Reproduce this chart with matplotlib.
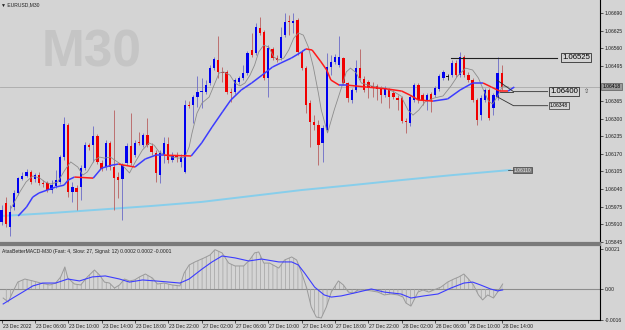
import numpy as np
import matplotlib.pyplot as plt
from matplotlib.collections import LineCollection

plt.rcParams['font.family'] = ['Liberation Sans', 'DejaVu Sans']
plt.rcParams['hatch.linewidth'] = 0.5

# EURUSD M30 candles, bar 0 = 23 Dec 2022 02:00
opens = [1.05918, 1.05988, 1.05899, 1.05973, 1.06025, 1.06077, 1.06088, 1.06103, 1.06077, 1.06091,
         1.06062, 1.06062, 1.06036, 1.06051, 1.06066, 1.06158, 1.06276, 1.06029, 1.06043, 1.06047,
         1.06117, 1.06202, 1.06202, 1.06236, 1.06136, 1.06121, 1.06210, 1.06121, 1.06084, 1.06077,
         1.06136, 1.06199, 1.06165, 1.06214, 1.06202, 1.06239, 1.06199, 1.06173, 1.06091, 1.06165,
         1.06206, 1.06147, 1.06165, 1.06140, 1.06103, 1.06350, 1.06350, 1.06380, 1.06399, 1.06399,
         1.06432, 1.06487, 1.06517, 1.06473, 1.06473, 1.06399, 1.06399, 1.06436, 1.06450, 1.06469,
         1.06554, 1.06543, 1.06635, 1.06621, 1.06450, 1.06558, 1.06524, 1.06524, 1.06609, 1.06661,
         1.06654, 1.06665, 1.06547, 1.06487, 1.06358, 1.06288, 1.06276, 1.06210, 1.06258, 1.06491,
         1.06510, 1.06498, 1.06524, 1.06432, 1.06369, 1.06406, 1.06487, 1.06447, 1.06436, 1.06421,
         1.06421, 1.06413, 1.06387, 1.06406, 1.06395, 1.06376, 1.06376, 1.06291, 1.06284, 1.06369,
         1.06424, 1.06387, 1.06369, 1.06391, 1.06387, 1.06410, 1.06450, 1.06454, 1.06461, 1.06506,
         1.06461, 1.06528, 1.06461, 1.06443, 1.06369, 1.06313, 1.06369, 1.06406, 1.06339, 1.06380,
         1.06469]
highs = [1.05980, 1.06010, 1.05980, 1.06036, 1.06084, 1.06103, 1.06114, 1.06110, 1.06099, 1.06103,
         1.06073, 1.06069, 1.06073, 1.06110, 1.06165, 1.06306, 1.06284, 1.06066, 1.06054, 1.06128,
         1.06214, 1.06210, 1.06273, 1.06243, 1.06147, 1.06221, 1.06217, 1.06332, 1.06103, 1.06136,
         1.06210, 1.06321, 1.06221, 1.06251, 1.06247, 1.06302, 1.06210, 1.06184, 1.06184, 1.06232,
         1.06232, 1.06177, 1.06177, 1.06169, 1.06369, 1.06365, 1.06387, 1.06458, 1.06450, 1.06443,
         1.06498, 1.06528, 1.06606, 1.06491, 1.06480, 1.06413, 1.06450, 1.06458, 1.06498, 1.06550,
         1.06617, 1.06654, 1.06676, 1.06628, 1.06572, 1.06565, 1.06535, 1.06639, 1.06691, 1.06683,
         1.06691, 1.06672, 1.06554, 1.06495, 1.06369, 1.06313, 1.06295, 1.06276, 1.06543, 1.06535,
         1.06539, 1.06606, 1.06528, 1.06436, 1.06413, 1.06517, 1.06558, 1.06458, 1.06443, 1.06436,
         1.06428, 1.06421, 1.06421, 1.06413, 1.06406, 1.06387, 1.06384, 1.06302, 1.06387, 1.06432,
         1.06432, 1.06395, 1.06395, 1.06399, 1.06421, 1.06465, 1.06480, 1.06465, 1.06517, 1.06517,
         1.06547, 1.06535, 1.06473, 1.06450, 1.06376, 1.06387, 1.06413, 1.06413, 1.06395, 1.06528,
         1.06498]
lows = [1.05906, 1.05899, 1.05866, 1.05962, 1.06017, 1.06073, 1.06084, 1.06058, 1.06066, 1.06054,
        1.06047, 1.06029, 1.06025, 1.06043, 1.06058, 1.06147, 1.06010, 1.05992, 1.05962, 1.05999,
        1.06110, 1.06184, 1.06140, 1.06132, 1.06106, 1.06110, 1.06110, 1.05962, 1.06006, 1.05925,
        1.06128, 1.06128, 1.06158, 1.06202, 1.06195, 1.06195, 1.06165, 1.06066, 1.06062, 1.06136,
        1.06136, 1.06140, 1.06140, 1.06121, 1.06099, 1.06339, 1.06284, 1.06343, 1.06339, 1.06391,
        1.06424, 1.06480, 1.06450, 1.06436, 1.06391, 1.06362, 1.06391, 1.06428, 1.06443, 1.06461,
        1.06528, 1.06535, 1.06609, 1.06443, 1.06380, 1.06517, 1.06510, 1.06517, 1.06602, 1.06609,
        1.06617, 1.06535, 1.06480, 1.06321, 1.06195, 1.06258, 1.06128, 1.06140, 1.06251, 1.06461,
        1.06502, 1.06491, 1.06424, 1.06362, 1.06358, 1.06399, 1.06443, 1.06399, 1.06376, 1.06380,
        1.06369, 1.06358, 1.06380, 1.06339, 1.06373, 1.06332, 1.06284, 1.06247, 1.06273, 1.06362,
        1.06358, 1.06350, 1.06332, 1.06325, 1.06380, 1.06402, 1.06443, 1.06443, 1.06454, 1.06454,
        1.06454, 1.06454, 1.06436, 1.06362, 1.06276, 1.06295, 1.06362, 1.06295, 1.06313, 1.06369,
        1.06406]
closes = [1.05962, 1.05910, 1.05955, 1.06025, 1.06080, 1.06088, 1.06103, 1.06066, 1.06091, 1.06062,
          1.06058, 1.06036, 1.06054, 1.06073, 1.06158, 1.06280, 1.06029, 1.06047, 1.06029, 1.06117,
          1.06202, 1.06195, 1.06236, 1.06140, 1.06114, 1.06210, 1.06121, 1.06080, 1.06073, 1.06128,
          1.06199, 1.06136, 1.06210, 1.06210, 1.06239, 1.06202, 1.06177, 1.06099, 1.06173, 1.06210,
          1.06147, 1.06165, 1.06158, 1.06158, 1.06350, 1.06347, 1.06380, 1.06399, 1.06402, 1.06424,
          1.06487, 1.06521, 1.06473, 1.06469, 1.06399, 1.06395, 1.06443, 1.06450, 1.06469, 1.06543,
          1.06535, 1.06639, 1.06617, 1.06450, 1.06561, 1.06524, 1.06517, 1.06602, 1.06658, 1.06658,
          1.06661, 1.06547, 1.06487, 1.06350, 1.06288, 1.06276, 1.06202, 1.06265, 1.06491, 1.06510,
          1.06528, 1.06528, 1.06432, 1.06376, 1.06406, 1.06487, 1.06450, 1.06406, 1.06413, 1.06413,
          1.06410, 1.06387, 1.06410, 1.06380, 1.06380, 1.06369, 1.06291, 1.06288, 1.06380, 1.06424,
          1.06369, 1.06369, 1.06387, 1.06369, 1.06413, 1.06458, 1.06473, 1.06454, 1.06506, 1.06461,
          1.06528, 1.06461, 1.06443, 1.06369, 1.06295, 1.06376, 1.06406, 1.06302, 1.06387, 1.06469,
          1.06418]

# slow two-colour MA (b = rising, r = falling)
ma_bars = [4, 6, 7.5, 9, 11, 13, 15, 16, 17.5, 22, 24, 26.5, 28, 32, 34.5, 37, 39, 45.5, 48, 50.5,
           53, 55, 57.5, 60, 62.5, 65, 67, 69.5, 72, 73, 74.5, 76.5, 78, 79, 81, 83, 87.5, 92.5, 96, 98,
           100, 103.5, 107, 110, 113, 115.5, 117.5, 119.5, 121.5, 123]
ma_vals = [1.05940, 1.05973, 1.06010, 1.06025, 1.06036, 1.06047, 1.06054, 1.06073, 1.06084, 1.06080,
           1.06117, 1.06128, 1.06132, 1.06121, 1.06151, 1.06165, 1.06165, 1.06162, 1.06210, 1.06269,
           1.06325, 1.06369, 1.06406, 1.06432, 1.06461, 1.06491, 1.06506, 1.06524, 1.06547, 1.06558,
           1.06554, 1.06513, 1.06480, 1.06443, 1.06424, 1.06424, 1.06417, 1.06410, 1.06402, 1.06387,
           1.06369, 1.06365, 1.06373, 1.06406, 1.06432, 1.06432, 1.06417, 1.06402, 1.06402, 1.06417]
ma_dir = "bbbbbbbbrbbbrbbbrbbbbbbbbbbbbrrrrrbrrrrrrbbbbrrrb"

# fast MA (thin grey)
fast_bars = [2.3, 4.4, 5.9, 7.5, 9.2, 10.4, 11.8, 13.5, 15.2, 16.6, 18.3, 19.5, 20.6, 22.3, 23.5,
             24.7, 26.1, 27.8, 29.0, 30.7, 32.1, 33.8, 35.4, 36.6, 37.8, 39.3, 40.9, 42.6, 44.0, 45.0,
             45.7, 46.9, 48.1, 49.8, 51.2, 52.2, 53.3, 54.8, 56.0, 57.2, 58.4, 59.6, 60.7, 61.7, 62.9,
             64.1, 65.3, 66.5, 67.7, 68.9, 70.1, 71.2, 72.4, 73.6, 74.8, 76.0, 76.7, 78.2, 79.8, 81.5,
             82.7, 83.7, 85.1, 86.3, 88.7, 91.8, 94.2, 95.8, 97.5, 98.7, 100.1, 101.6, 103.7, 105.9,
             107.8, 109.4, 111.3, 113.0, 114.4, 115.6, 116.8, 117.8, 119.0, 120.2, 121.6]
fast_vals = [1.05969, 1.06029, 1.06066, 1.06088, 1.06080, 1.06066, 1.06058, 1.06066, 1.06110, 1.06140,
             1.06121, 1.06091, 1.06103, 1.06147, 1.06158, 1.06154, 1.06158, 1.06140, 1.06128, 1.06099,
             1.06140, 1.06184, 1.06210, 1.06202, 1.06177, 1.06165, 1.06158, 1.06154, 1.06158, 1.06195,
             1.06247, 1.06321, 1.06358, 1.06380, 1.06432, 1.06469, 1.06473, 1.06461, 1.06432, 1.06421,
             1.06432, 1.06461, 1.06498, 1.06547, 1.06572, 1.06565, 1.06528, 1.06517, 1.06524, 1.06554,
             1.06598, 1.06617, 1.06609, 1.06565, 1.06491, 1.06395, 1.06332, 1.06247, 1.06332, 1.06413,
             1.06473, 1.06487, 1.06469, 1.06432, 1.06421, 1.06413, 1.06399, 1.06384, 1.06332, 1.06313,
             1.06332, 1.06362, 1.06376, 1.06384, 1.06421, 1.06458, 1.06487, 1.06480, 1.06450, 1.06406,
             1.06365, 1.06354, 1.06384, 1.06421, 1.06417]

# long MA (light blue)
long_bars = [0, 12, 24, 36, 48, 60, 72, 84, 96, 108, 122]
long_vals = [1.05940, 1.05951, 1.05964, 1.05977, 1.05992, 1.06014, 1.06036, 1.06054, 1.06073, 1.06091, 1.06110]

# MACD panel
macd_bars = [0.4, 1.6, 2.7, 3.9, 5.6, 7.5, 9.4, 11.6, 13.0, 14.2, 15.2, 15.9, 17.5, 19.0, 20.6, 22.3,
             23.5, 24.7, 25.9, 27.1, 28.3, 29.5, 30.7, 31.9, 33.1, 34.5, 36.2, 37.4, 39.0, 40.9, 42.8,
             43.8, 45.0, 46.4, 48.6, 50.0, 51.2, 52.9, 54.5, 56.0, 58.1, 59.5, 60.7, 61.7, 62.9, 64.3,
             66.5, 67.9, 69.6, 70.8, 72.0, 73.2, 74.3, 75.5, 76.7, 77.9, 79.1, 80.8, 82.0, 83.2, 84.4,
             85.6, 87.0, 88.7, 90.3, 91.8, 93.4, 95.1, 96.3, 97.0, 98.2, 99.9, 101.1, 102.5, 103.7,
             105.4, 107.0, 108.5, 109.7, 110.9, 112.0, 113.2, 114.4, 115.4, 116.6, 118.0, 119.0, 120.2]
macd_main = [-0.00047, -0.00068, -0.00016, 0.00036, 0.00052, 0.00042, 0.00031, 0.00021, 0.00031, 0.00063,
             0.00115, 0.00057, 0.00026, 0.00021, 0.00063, 0.00099, 0.00073, 0.00036, 0.00031, 0.00005,
             0.00021, 0.00052, 0.00042, 0.00047, 0.00063, 0.00078, 0.00057, 0.00026, 0.00031, 0.00021,
             0.00016, 0.00083, 0.00125, 0.00141, 0.00162, 0.00177, 0.00205, 0.00188, 0.00135, 0.00120,
             0.00120, 0.00151, 0.00188, 0.00193, 0.00135, 0.00135, 0.00109, 0.00151, 0.00167, 0.00151,
             0.00083, 0.00005, -0.00094, -0.00146, -0.00151, -0.00094, -0.00016, 0.00042, 0.00021, -0.00016,
             -0.00021, -0.00005, -0.00005, -0.00010, -0.00016, -0.00031, -0.00026, -0.00031, -0.00042, -0.00073,
             -0.00089, -0.00016, -0.00005, -0.00016, -0.00005, 0.00010, 0.00036, 0.00052, 0.00063, 0.00078,
             0.00052, 0.00021, -0.00031, -0.00057, -0.00031, -0.00047, -0.00016, 0.00026]
sig_bars = [0.4, 2.7, 5.1, 7.5, 9.9, 13.0, 15.9, 18.7, 21.8, 24.9, 28.3, 30.7, 33.8, 36.9, 40.2, 42.8,
            45.0, 48.1, 50.5, 52.9, 56.0, 59.3, 62.4, 66.5, 69.6, 71.2, 72.7, 75.1, 77.4, 79.1, 81.5,
            84.6, 88.7, 91.8, 95.8, 98.2, 101.3, 104.7, 107.8, 110.9, 113.0, 114.9, 117.3, 119.0, 120.2]
sig_vals = [-0.00078, -0.00047, -0.00016, 0.00016, 0.00031, 0.00031, 0.00052, 0.00042, 0.00063, 0.00068,
            0.00052, 0.00036, 0.00047, 0.00042, 0.00036, 0.00031, 0.00052, 0.00104, 0.00141, 0.00172,
            0.00162, 0.00146, 0.00156, 0.00141, 0.00141, 0.00125, 0.00083, 0.00010, -0.00031, -0.00042,
            -0.00036, -0.00021, 0.00000, -0.00016, -0.00026, -0.00047, -0.00036, -0.00026, 0.00005, 0.00031,
            0.00036, 0.00021, 0.00000, -0.00010, -0.00005]

time_labels = ["23 Dec 2022", "23 Dec 06:00", "23 Dec 10:00", "23 Dec 14:00", "23 Dec 18:00",
               "23 Dec 22:00", "27 Dec 02:00", "27 Dec 06:00", "27 Dec 10:00", "27 Dec 14:00",
               "27 Dec 18:00", "27 Dec 22:00", "28 Dec 02:00", "28 Dec 06:00", "28 Dec 10:00",
               "28 Dec 14:00"]
price_ticks = [1.06690, 1.06625, 1.06560, 1.06495, 1.06365, 1.06300, 1.06235, 1.06170,
               1.06105, 1.06040, 1.05975, 1.05910, 1.05845]
last_price = 1.06418
level_top = 1.06525
level_mid = 1.06400
level_low = 1.06348

BG = '#d4d4d4'
BULL = '#0000f0'
BEAR = '#f00000'
FS = 3.6

fig = plt.figure(figsize=(6.25, 3.3), dpi=100)
fig.patch.set_facecolor(BG)
ax = fig.add_axes([0, 87/330, 600/625, 243/330])
am = fig.add_axes([0, 10/330, 600/625, 75/330], sharex=ax)
for a in (ax, am):
    a.set_facecolor(BG)
    a.spines['left'].set_visible(False)
    a.spines['right'].set_color('black')
    a.spines['right'].set_linewidth(0.8)
ax.spines['top'].set_visible(False)
ax.spines['bottom'].set_color('#7a7a7a')
ax.spines['bottom'].set_linewidth(1.6)
am.spines['top'].set_color('#7a7a7a')
am.spines['top'].set_linewidth(1.6)
am.spines['bottom'].set_color('black')
am.spines['bottom'].set_linewidth(0.8)

x = np.arange(len(opens))
o = np.array(opens)
c = np.array(closes)
h = np.array(highs)
l = np.array(lows)

# watermark and header
ax.text(0.152, 0.782, 'M30', transform=ax.transAxes, fontsize=37, fontweight='bold',
        color='#c5c5c5', ha='center', va='center', zorder=0)
ax.text(0.002, 0.979, '\u25bc EURUSD,M30', transform=ax.transAxes, fontsize=FS,
        color='#202020', ha='left', va='center')

ax.axhline(last_price, color='#a9a9a9', lw=0.6, zorder=1)

# long MA
ax.plot(long_bars, long_vals, color='#87ceeb', lw=1.4, zorder=2)

# candles
up = c > o
dn = c < o
wick_col = np.where(up, '#6a6ac8', np.where(dn, '#b86060', '#202020'))
ax.vlines(x, l, h, colors=wick_col, lw=0.6, zorder=3)
body_col = np.where(up, BULL, np.where(dn, BEAR, '#101010'))
ax.bar(x, np.maximum(np.abs(c - o), 0.00002), bottom=np.minimum(o, c), width=0.55,
       color=body_col, lw=0, zorder=4)

# fast MA
ax.plot(fast_bars, fast_vals, color='#8c8c8c', lw=0.6, zorder=5)

# two-colour MA
pts = np.column_stack([ma_bars, ma_vals])
segs = [pts[i:i + 2] for i in range(len(pts) - 1)]
cols = ['#3c3cff' if d == 'b' else '#ff1a1a' for d in ma_dir]
ax.add_collection(LineCollection(segs, colors=cols, linewidths=1.1, zorder=6))

# level objects
ax.plot([107.8, 133.3], [level_top, level_top], color='#202020', lw=0.8, zorder=7)
ax.text(134.5, level_top, '%.5f' % level_top, fontsize=5.6, va='center', ha='left', zorder=8,
        bbox=dict(boxstyle='square,pad=0.12', fc=BG, ec='#303030', lw=0.6))
ax.plot([118.8, 122.8, 131.0], [1.06443, level_mid, level_mid], color='#303030', lw=0.6, zorder=7)
ax.plot([119.5, 122.8], [level_mid, level_mid], color='#303030', lw=0.6, zorder=7)
ax.text(131.6, level_mid, '%.5f' % level_mid, fontsize=5.6, va='center', ha='left', zorder=8,
        bbox=dict(boxstyle='square,pad=0.12', fc=BG, ec='#303030', lw=0.6))
ax.text(139.6, level_mid, '\u21e7', fontsize=4.5, va='center', ha='left', color='#404040',
        family='DejaVu Sans')
ax.plot([119.0, 122.8, 131.0], [1.06380, level_low, level_low], color='#303030', lw=0.6, zorder=7)
ax.text(131.5, level_low, '%.5f' % level_low, fontsize=FS, va='center', ha='left', zorder=8,
        bbox=dict(boxstyle='square,pad=0.15', fc=BG, ec='#303030', lw=0.5))
ax.plot([121.5, 122.6], [long_vals[-1], long_vals[-1]], color='#303030', lw=0.5)
ax.text(122.8, long_vals[-1], '%.5f' % long_vals[-1], fontsize=FS, va='center', ha='left',
        color='#e8e8e8', bbox=dict(boxstyle='square,pad=0.15', fc='#7c7c7c', ec='#404040', lw=0.5))

ax.set_xlim(-0.36, 143.55)
ax.set_ylim(1.05840, 1.06739)
ax.yaxis.tick_right()
ax.set_yticks(price_ticks)
ax.set_yticklabels(['%.5f' % p for p in price_ticks])
ax.tick_params(axis='y', labelsize=FS, length=2, width=0.5, pad=1.2, colors='#202020')
ax.tick_params(axis='x', bottom=False, labelbottom=False)
ax.text(1.004, last_price, '%.5f' % last_price, transform=ax.get_yaxis_transform(),
        fontsize=FS, va='center', ha='left', color='black', zorder=9, clip_on=False,
        bbox=dict(boxstyle='square,pad=0.2', fc='#9a9a9a', ec='#5a5a5a', lw=0.5))

# MACD
am.axhline(0, color='#8c8c8c', lw=0.8, zorder=1)
am.fill_between(macd_bars, 0, macd_main, facecolor='none', edgecolor='#a2a2a2', hatch='||||',
                lw=0, zorder=2)
am.plot(macd_bars, macd_main, color='#9a9a9a', lw=0.7, zorder=3)
am.plot(sig_bars, sig_vals, color='#3c3cff', lw=0.8, zorder=4)
am.set_ylim(-0.001615, 0.002292)
am.yaxis.tick_right()
am.set_yticks([0.0021, 0.0, -0.0016])
am.set_yticklabels(['0.0021', '0.00', '-0.0016'])
am.tick_params(axis='y', labelsize=FS, length=2, width=0.5, pad=1.2, colors='#202020')
am.text(0.004, 0.92, 'AtasBetterMACD-M30 (Fast: 4, Slow: 27, Signal: 12) 0.0002 0.0002 -0.0001',
        transform=am.transAxes, fontsize=FS, color='#202020', ha='left', va='center')

tick_pos = np.arange(0, 121, 8)
am.set_xticks(tick_pos)
am.tick_params(axis='x', length=2.5, width=0.5, direction='out', labelbottom=False, colors='#202020')
for tp, lab in zip(tick_pos, time_labels):
    am.text(tp + 0.25, -0.09, lab, transform=am.get_xaxis_transform(), fontsize=FS,
            color='#202020', ha='left', va='center', clip_on=False)

fig.savefig('out.png', dpi=100, facecolor=BG)
